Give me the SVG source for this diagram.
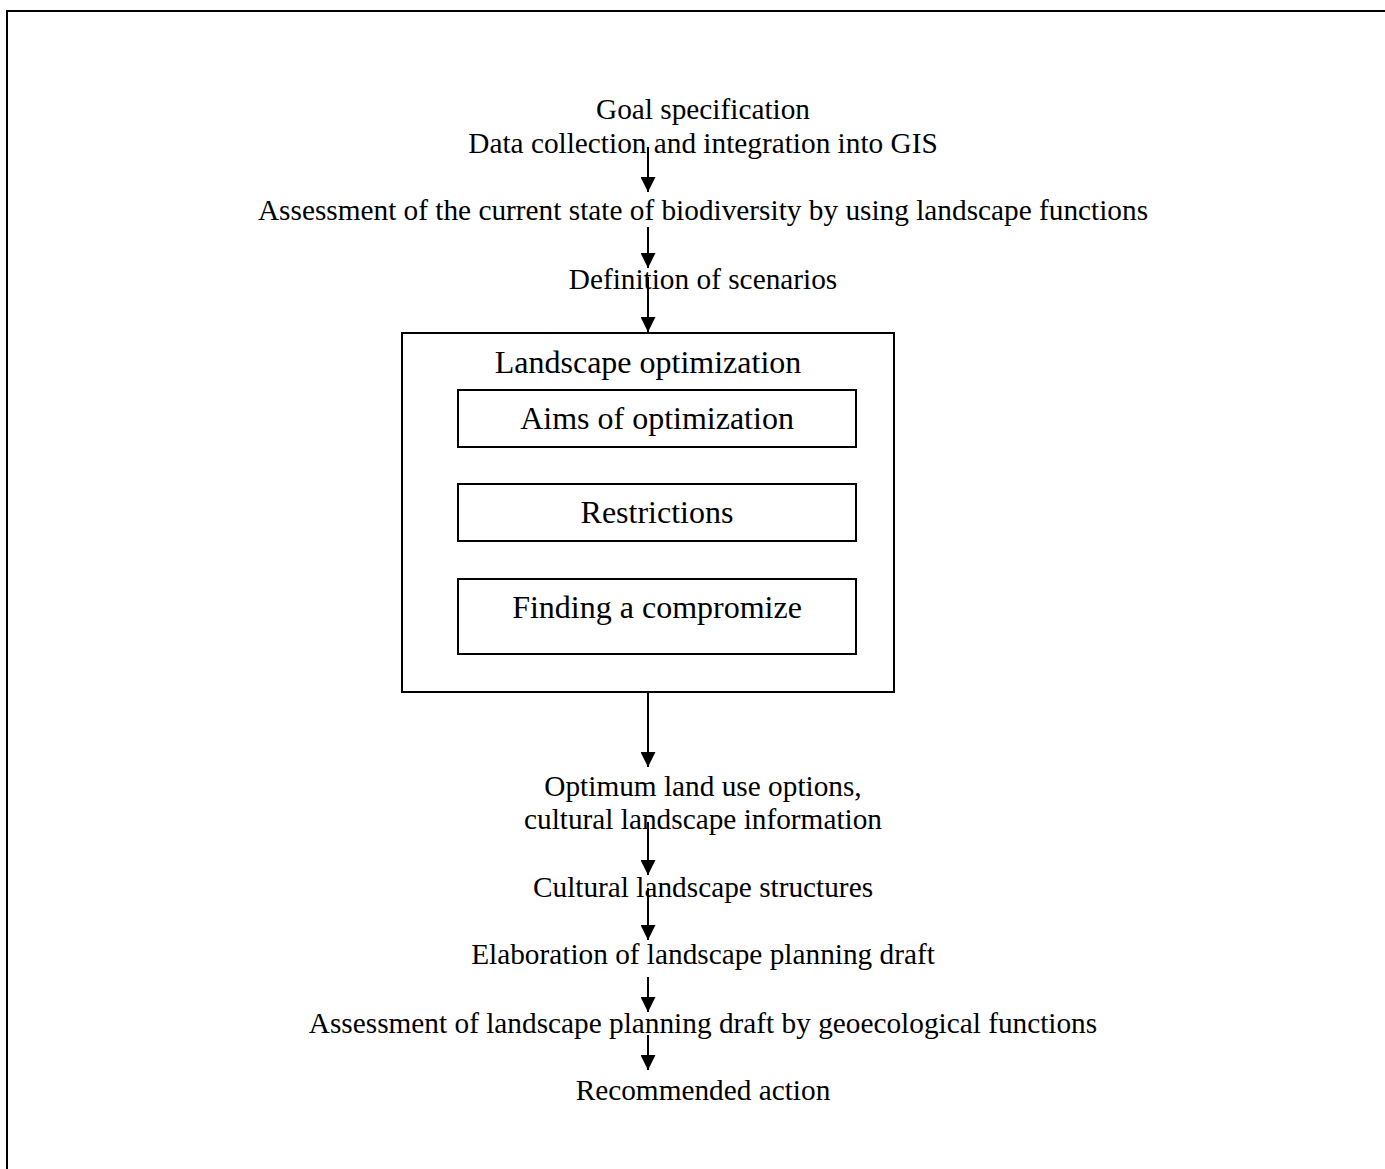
<svg xmlns="http://www.w3.org/2000/svg" width="1385" height="1169" viewBox="0 0 1385 1169">
<defs>
<style>
.box{fill:none;stroke:#000;stroke-width:2}
.conn{stroke:#000;stroke-width:2;fill:none}
</style>
<marker id="ah" markerUnits="userSpaceOnUse" markerWidth="15" markerHeight="15" refX="15" refY="7.5" orient="auto">
<path d="M0,0 L15,7.5 L0,15 Z" fill="#000"/>
</marker>
</defs>
<rect width="1385" height="1169" fill="#fff"/>
<path d="M7,1169 V11 H1385" class="conn"/>
<g font-family="Liberation Serif, Times New Roman, serif" font-size="29.3" fill="#000" text-anchor="middle">
<g id="n1"><text x="703" y="119">Goal specification</text><text x="703" y="153">Data collection and integration into GIS</text></g>
<g id="n2"><text x="703" y="220">Assessment of the current state of biodiversity by using landscape functions</text></g>
<g id="n3"><text x="703" y="289">Definition of scenarios</text></g>
<g id="n4" font-size="32">
<rect class="box" x="402" y="333" width="492" height="359"/>
<text x="648" y="373">Landscape optimization</text>
<rect class="box" x="458" y="390" width="398" height="57"/>
<text x="657" y="429">Aims of optimization</text>
<rect class="box" x="458" y="484" width="398" height="57"/>
<text x="657" y="523">Restrictions</text>
<rect class="box" x="458" y="579" width="398" height="75"/>
<text x="657" y="618">Finding a compromize</text>
</g>
<g id="n5"><text x="703" y="796">Optimum land use options,</text><text x="703" y="829">cultural landscape information</text></g>
<g id="n6"><text x="703" y="897">Cultural landscape structures</text></g>
<g id="n7"><text x="703" y="964">Elaboration of landscape planning draft</text></g>
<g id="n8"><text x="703" y="1033">Assessment of landscape planning draft by geoecological functions</text></g>
<g id="n9"><text x="703" y="1100">Recommended action</text></g>
</g>
<g id="connectors">
<line class="conn" x1="648" y1="147" x2="648" y2="192" marker-end="url(#ah)"/>
<line class="conn" x1="648" y1="227" x2="648" y2="268" marker-end="url(#ah)"/>
<line class="conn" x1="648" y1="277" x2="648" y2="332" marker-end="url(#ah)"/>
<line class="conn" x1="648" y1="692" x2="648" y2="767" marker-end="url(#ah)"/>
<line class="conn" x1="648" y1="822" x2="648" y2="875" marker-end="url(#ah)"/>
<line class="conn" x1="648" y1="888" x2="648" y2="940" marker-end="url(#ah)"/>
<line class="conn" x1="648" y1="977" x2="648" y2="1012" marker-end="url(#ah)"/>
<line class="conn" x1="648" y1="1035" x2="648" y2="1070" marker-end="url(#ah)"/>
</g>
</svg>
